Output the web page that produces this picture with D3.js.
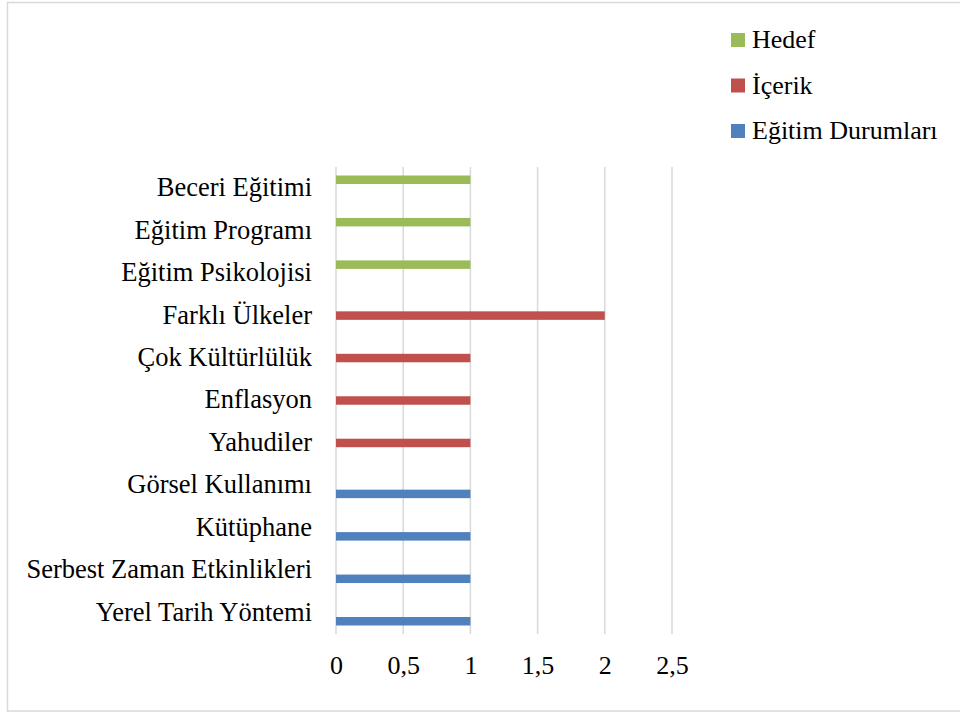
<!DOCTYPE html>
<html>
<head>
<meta charset="utf-8">
<script src="https://cdn.jsdelivr.net/npm/d3@7"></script>
<style>
  html, body { margin: 0; padding: 0; background: #fff; font-family: 'Liberation Serif', serif; }
  svg, svg text { font-family: 'Liberation Serif', serif; }
</style>
</head>
<body>
<div id="chart"></div>
<script>
// categories, top to bottom
const categories = [
  'Beceri Eğitimi', 'Eğitim Programı', 'Eğitim Psikolojisi',
  'Farklı Ülkeler', 'Çok Kültürlülük', 'Enflasyon', 'Yahudiler',
  'Görsel Kullanımı', 'Kütüphane', 'Serbest Zaman Etkinlikleri', 'Yerel Tarih Yöntemi'
];

// series names (top of group first)
const seriesNames = ['Hedef', 'İçerik', 'Eğitim Durumları'];
const seriesColors = ['#9bbb59', '#c0504d', '#4f81bd'];

// values per series, same order as categories
const hedefValues   = [1, 1, 1, 0, 0, 0, 0, 0, 0, 0, 0];
const icerikValues  = [0, 0, 0, 2, 1, 1, 1, 0, 0, 0, 0];
const egitimValues  = [0, 0, 0, 0, 0, 0, 0, 1, 1, 1, 1];
const seriesValues = [hedefValues, icerikValues, egitimValues];

const xTicks = [0, 0.5, 1, 1.5, 2, 2.5];

const width = 960, height = 713;
const plot = { left: 336, right: 672, top: 167, bottom: 634 };
const fontFamily = 'Liberation Serif';

const svg = d3.select('#chart').append('svg')
  .attr('width', width)
  .attr('height', height)
  .attr('font-family', fontFamily);

// chart border (right edge runs off the picture)
svg.append('rect')
  .attr('x', 7.5).attr('y', 2.5)
  .attr('width', 960).attr('height', 708.5)
  .attr('fill', 'none')
  .attr('stroke', '#d9d9d9')
  .attr('stroke-width', 1.5);

const x = d3.scaleLinear().domain([0, 2.5]).range([plot.left, plot.right]);
const y0 = d3.scaleBand().domain(categories).range([plot.top, plot.bottom]).padding(0);
const y1 = d3.scaleBand().domain(seriesNames).range([0, y0.bandwidth()])
  .paddingInner(0).paddingOuter(1);

// gridlines
svg.append('g')
  .selectAll('line')
  .data(xTicks)
  .enter()
  .append('line')
  .attr('x1', d => x(d)).attr('x2', d => x(d))
  .attr('y1', plot.top).attr('y2', plot.bottom)
  .attr('stroke', '#d9d9d9')
  .attr('stroke-width', 1.5);

// bars
const barData = [];
seriesNames.forEach((s, i) => {
  categories.forEach((c, j) => {
    if (seriesValues[i][j] > 0) barData.push({ series: s, cat: c, value: seriesValues[i][j], color: seriesColors[i] });
  });
});

svg.append('g')
  .selectAll('rect')
  .data(barData)
  .enter()
  .append('rect')
  .attr('x', x(0))
  .attr('y', d => y0(d.cat) + y1(d.series))
  .attr('width', d => x(d.value) - x(0))
  .attr('height', y1.bandwidth())
  .attr('fill', d => d.color);

// x axis labels
const xAxis = d3.axisBottom(x)
  .tickValues(xTicks)
  .tickSize(0)
  .tickPadding(0)
  .tickFormat(d => String(d).replace('.', ','));

svg.append('g')
  .attr('transform', `translate(0,${plot.bottom + 21.5})`)
  .call(xAxis)
  .attr('font-family', fontFamily)
  .attr('font-size', 26)
  .call(g => g.select('.domain').remove())
  .call(g => g.selectAll('text')
    .style('font-family', fontFamily)
    .style('font-size', '26px')
    .attr('fill', '#000'));

// y axis labels
const yAxis = d3.axisLeft(y0).tickSize(0).tickPadding(0);
svg.append('g')
  .attr('transform', `translate(${plot.left - 24},0)`)
  .call(yAxis)
  .attr('font-family', fontFamily)
  .attr('font-size', 26.5)
  .call(g => g.select('.domain').remove())
  .call(g => g.selectAll('text')
    .attr('dy', '0.3em')
    .style('font-family', fontFamily)
    .style('font-size', '26.5px')
    .attr('fill', '#000'));

// legend
const legend = svg.append('g')
  .selectAll('g')
  .data(seriesNames)
  .enter()
  .append('g')
  .attr('transform', (d, i) => `translate(731,${40 + i * 45.5})`);

legend.append('rect')
  .attr('x', 0).attr('y', -7)
  .attr('width', 14).attr('height', 14)
  .attr('fill', (d, i) => seriesColors[i]);

legend.append('text')
  .attr('x', 21)
  .attr('dy', '0.32em')
  .style('font-family', fontFamily)
  .style('font-size', '26px')
  .attr('fill', '#000')
  .text(d => d);
</script>
</body>
</html>
